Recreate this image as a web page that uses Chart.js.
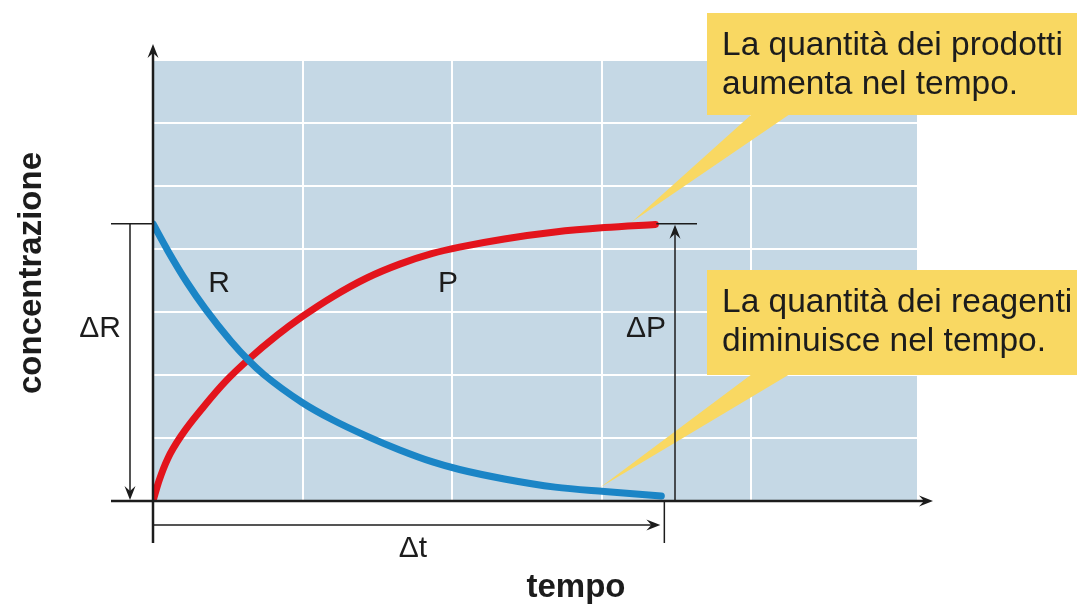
<!DOCTYPE html>
<html>
<head>
<meta charset="utf-8">
<script src="https://cdn.jsdelivr.net/npm/chart.js@4"></script>
<style>
  body { margin: 0; background: #fff; }
  #wrap { width: 1077px; height: 605px; position: relative; }
</style>
</head>
<body>
<div id="wrap"><canvas id="kinetics" width="1077" height="605"></canvas></div>
<script>
// values (x = tempo, y = concentrazione, grid units)
var timeR = [0, 0.10, 0.23, 0.35, 0.52, 0.64, 0.74, 1.0, 1.2, 1.43, 1.65, 1.87, 2.05, 2.35, 2.69, 3.02, 3.40];
var concR = [4.4, 3.97, 3.46, 3.05, 2.54, 2.23, 2.01, 1.56, 1.29, 1.03, 0.81, 0.62, 0.50, 0.35, 0.22, 0.15, 0.08];
var timeP = [0, 0.04, 0.10, 0.19, 0.34, 0.49, 0.64, 0.83, 1.0, 1.2, 1.43, 1.65, 1.87, 2.05, 2.35, 2.69, 3.02, 3.36];
var concP = [0, 0.32, 0.68, 1.04, 1.50, 1.91, 2.25, 2.63, 2.93, 3.24, 3.54, 3.76, 3.93, 4.03, 4.16, 4.27, 4.34, 4.39];

var xMax = 5.11;
var yMax = 7;
var startLevel = 4.4;
var endTime = 3.4;

var callout1 = ['La quantità dei prodotti', 'aumenta nel tempo.'];
var callout2 = ['La quantità dei reagenti', 'diminuisce nel tempo.'];

var font = '"Liberation Sans", Arial, sans-serif';
var ink = '#1c1c1c';
var yellow = '#f9d862';

function toPoints(xs, ys) {
  var pts = [];
  for (var i = 0; i < xs.length; i++) pts.push({ x: xs[i], y: ys[i] });
  return pts;
}

function arrowHead(ctx, x, y, dir) {
  // dir: 'up', 'down', 'right'
  var L = 14, W = 5.5, N = 5;
  ctx.beginPath();
  if (dir === 'up') {
    ctx.moveTo(x, y); ctx.lineTo(x - W, y + L); ctx.lineTo(x, y + L - N); ctx.lineTo(x + W, y + L);
  } else if (dir === 'down') {
    ctx.moveTo(x, y); ctx.lineTo(x - W, y - L); ctx.lineTo(x, y - L + N); ctx.lineTo(x + W, y - L);
  } else {
    ctx.moveTo(x, y); ctx.lineTo(x - L, y - W); ctx.lineTo(x - L + N, y); ctx.lineTo(x - L, y + W);
  }
  ctx.closePath();
  ctx.fill();
}

function line(ctx, x1, y1, x2, y2, w) {
  ctx.lineWidth = w;
  ctx.beginPath();
  ctx.moveTo(x1, y1);
  ctx.lineTo(x2, y2);
  ctx.stroke();
}

var backdrop = {
  id: 'backdrop',
  beforeDraw: function (chart) {
    var a = chart.chartArea, ctx = chart.ctx;
    ctx.save();
    ctx.fillStyle = '#c5d8e5';
    ctx.fillRect(a.left, a.top, a.right - a.left, a.bottom - a.top);
    ctx.restore();
  }
};

function drawCallout(ctx, box, base, tip, lines) {
  ctx.fillStyle = yellow;
  ctx.fillRect(box.x, box.y, box.w, box.h);
  ctx.beginPath();
  ctx.moveTo(base[0], box.y + box.h - 1);
  ctx.lineTo(base[1], box.y + box.h - 1);
  ctx.lineTo(tip.x, tip.y);
  ctx.closePath();
  ctx.fill();
  ctx.fillStyle = ink;
  ctx.font = '33.5px ' + font;
  ctx.textAlign = 'left';
  ctx.textBaseline = 'alphabetic';
  for (var i = 0; i < lines.length; i++) {
    ctx.fillText(lines[i], box.x + 15, box.y + 42 + i * 39);
  }
}

var callouts = {
  id: 'callouts',
  beforeDatasetsDraw: function (chart) {
    var ctx = chart.ctx, sx = chart.scales.x, sy = chart.scales.y;
    ctx.save();
    drawCallout(ctx, { x: 707, y: 13, w: 370, h: 102 }, [752, 790],
      { x: sx.getPixelForValue(3.2), y: sy.getPixelForValue(4.36) - 4 }, callout1);
    drawCallout(ctx, { x: 707, y: 270, w: 370, h: 105 }, [752, 790],
      { x: sx.getPixelForValue(2.99), y: sy.getPixelForValue(0.15) - 4 }, callout2);
    ctx.restore();
  }
};

var axesAndMarks = {
  id: 'axesAndMarks',
  afterDatasetsDraw: function (chart) {
    var ctx = chart.ctx, sx = chart.scales.x, sy = chart.scales.y;
    var x0 = sx.getPixelForValue(0), y0 = sy.getPixelForValue(0);
    var yTop = sy.getPixelForValue(startLevel);
    var xEnd = sx.getPixelForValue(endTime);
    ctx.save();
    ctx.strokeStyle = ink;
    ctx.fillStyle = ink;

    // axes
    line(ctx, x0, 543, x0, 52, 2.5);
    arrowHead(ctx, x0, 44, 'up');
    line(ctx, 111, y0, 924, y0, 2.5);
    arrowHead(ctx, 933, y0, 'right');

    // delta R
    line(ctx, 111, yTop, x0, yTop, 1.5);
    line(ctx, 130, yTop, 130, y0 - 8, 1.5);
    arrowHead(ctx, 130, y0 - 1, 'down');

    // delta P
    line(ctx, xEnd - 5, yTop, 697, yTop, 1.5);
    line(ctx, 675, y0, 675, yTop + 8, 1.5);
    arrowHead(ctx, 675, yTop + 1, 'up');

    // delta t
    line(ctx, x0, 525, xEnd - 4, 525, 1.5);
    arrowHead(ctx, xEnd - 1, 525, 'right');
    line(ctx, xEnd + 3, y0, xEnd + 3, 543, 1.5);

    ctx.font = '30px ' + font;
    ctx.textAlign = 'center';
    ctx.textBaseline = 'middle';
    ctx.fillText('\u0394R', 100, 329);
    ctx.fillText('\u0394P', 646, 329);
    ctx.fillText('\u0394t', 413, 549);
    ctx.fillText('R', 219, 284);
    ctx.fillText('P', 448, 284);

    // axis titles
    ctx.font = 'bold 33px ' + font;
    ctx.fillText('tempo', 576, 588);
    ctx.translate(32, 273);
    ctx.rotate(-Math.PI / 2);
    ctx.fillText('concentrazione', 0, 0);
    ctx.restore();
  }
};

function gridColor(c) {
  var v = c.tick ? c.tick.value : null;
  if (v === 0 || v === xMax) return 'rgba(255,255,255,0)';
  return '#ffffff';
}

new Chart(document.getElementById('kinetics'), {
  type: 'line',
  data: {
    datasets: [
      {
        label: 'R',
        data: toPoints(timeR, concR),
        borderColor: '#1b85c6',
        borderWidth: 7,
        borderCapStyle: 'round',
        pointRadius: 0,
        cubicInterpolationMode: 'monotone',
        fill: false
      },
      {
        label: 'P',
        data: toPoints(timeP, concP),
        borderColor: '#e3141c',
        borderWidth: 7,
        borderCapStyle: 'round',
        pointRadius: 0,
        cubicInterpolationMode: 'monotone',
        fill: false
      }
    ]
  },
  options: {
    responsive: false,
    animation: false,
    layout: { padding: { left: 153, top: 60, right: 160, bottom: 104 } },
    plugins: { legend: { display: false }, tooltip: { enabled: false } },
    scales: {
      x: {
        type: 'linear',
        min: 0,
        max: xMax,
        ticks: { display: false, stepSize: 1 },
        grid: { color: gridColor, lineWidth: 2, drawTicks: false },
        border: { display: false }
      },
      y: {
        type: 'linear',
        min: 0,
        max: yMax,
        ticks: { display: false, stepSize: 1 },
        grid: { color: gridColor, lineWidth: 2, drawTicks: false },
        border: { display: false }
      }
    }
  },
  plugins: [backdrop, callouts, axesAndMarks]
});
</script>
</body>
</html>
